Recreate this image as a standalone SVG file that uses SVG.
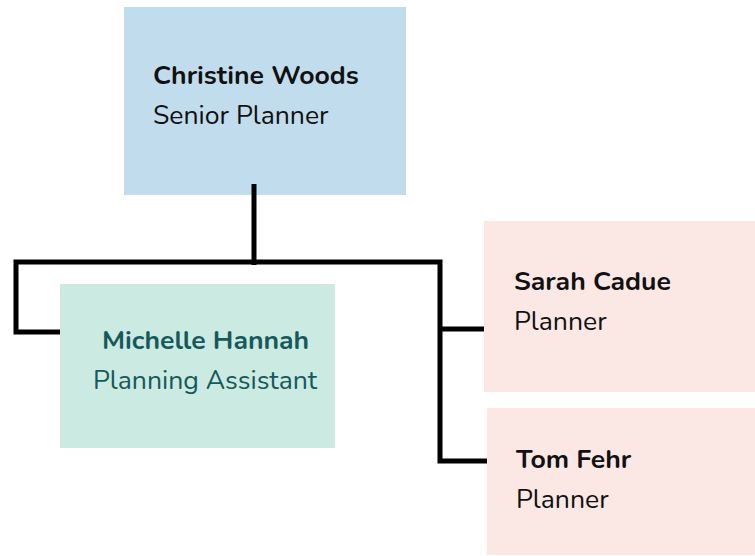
<svg xmlns="http://www.w3.org/2000/svg" width="755" height="556" viewBox="0 0 755 556">
  <style>
    .name { font-family: "Nunito", "Open Sans", "Liberation Sans", sans-serif; font-size: 26.6px; font-weight: 700; fill: #111111; }
    .role { font-family: "Nunito", "Open Sans", "Liberation Sans", sans-serif; font-size: 26.6px; font-weight: 400; fill: #111111; }
    .teal { fill: #17595A; }
    .link { fill: none; stroke: #000000; stroke-width: 5; stroke-linejoin: miter; stroke-linecap: butt; }
  </style>
  <rect width="755" height="556" fill="#ffffff"/>

  <g id="christine-woods">
    <rect x="124" y="7" width="282" height="188" fill="#C1DDED"/>
    <text class="name" x="153" y="84">Christine Woods</text>
    <text class="role" x="153" y="124">Senior Planner</text>
  </g>

  <g id="michelle-hannah">
    <rect x="60" y="284" width="275" height="164" fill="#CBEAE2"/>
    <text class="name teal" x="102" y="349">Michelle Hannah</text>
    <text class="role teal" x="93" y="389">Planning Assistant</text>
  </g>

  <g id="sarah-cadue">
    <rect x="484" y="221" width="271" height="171" fill="#FBE7E4"/>
    <text class="name" x="514" y="290">Sarah Cadue</text>
    <text class="role" x="514" y="330">Planner</text>
  </g>

  <g id="tom-fehr">
    <rect x="487" y="408" width="268" height="147" fill="#FBE7E4"/>
    <text class="name" x="516" y="468">Tom Fehr</text>
    <text class="role" x="516" y="508">Planner</text>
  </g>

  <!-- connectors sit above the boxes so the stub into the top box stays visible -->
  <g id="connectors">
    <path class="link" d="M254 184 V265"/>
    <path class="link" d="M60 332 H16 V262 H440 V461 H487"/>
    <path class="link" d="M440 329 H484"/>
  </g>
</svg>
